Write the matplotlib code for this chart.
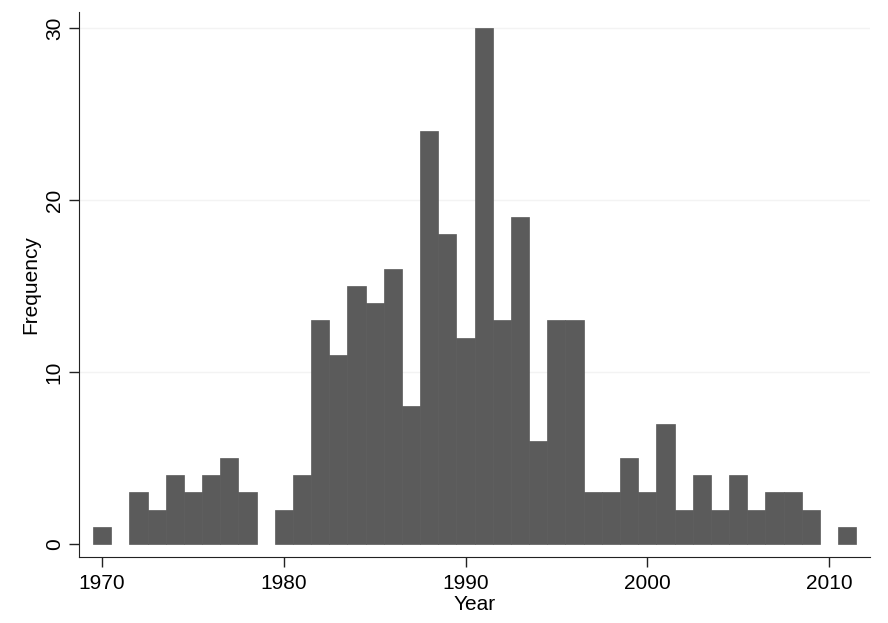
import numpy as np
import matplotlib.pyplot as plt

plt.rcParams['font.family'] = ['Liberation Sans', 'DejaVu Sans']

# Histogram counts per year
years = list(range(1970, 2012))
counts = [1, 0, 3, 2, 4, 3, 4, 5, 3, 0,
          2, 4, 13, 11, 15, 14, 16, 8, 24, 18,
          12, 30, 13, 19, 6, 13, 13, 3, 3, 5,
          3, 7, 2, 4, 2, 4, 2, 3, 3, 2,
          0, 1]
xticks = [1970, 1980, 1990, 2000, 2010]
yticks = [0, 10, 20, 30]

fig = plt.figure(figsize=(8.88, 6.23), dpi=100)
ax = fig.add_axes([0.089, 0.106, 0.891, 0.875])

# only draw non-empty bins, like a histogram does
yrs = [y for y, c in zip(years, counts) if c > 0]
cnt = [c for c in counts if c > 0]
ax.bar(yrs, cnt, width=1.0, color='#5b5b5b', edgecolor='#5b5b5b', linewidth=0.5, zorder=2)

ax.set_xlim(1968.73, 2012.27)
ax.set_ylim(-0.75, 30.93)
ax.set_xticks(xticks)
ax.set_yticks(yticks)
ax.set_yticklabels([str(v) for v in yticks], rotation=90, va='center')

# faint horizontal grid, Stata style
for v in yticks[1:]:
    ax.axhline(v, color='#f3f3f3', linewidth=1.0, zorder=0)

for s in ['top', 'right']:
    ax.spines[s].set_visible(False)
ax.spines['left'].set_color('#222222')
ax.spines['bottom'].set_color('#222222')
ax.tick_params(axis='both', direction='out', length=7, width=1, colors='#222222',
               labelsize=15, labelcolor='black', pad=5)
ax.tick_params(axis='y', pad=4)

ax.set_xlabel('Year', fontsize=15, labelpad=2)
ax.set_ylabel('Frequency', fontsize=15, labelpad=3)

fig.savefig('out.png', dpi=100)
